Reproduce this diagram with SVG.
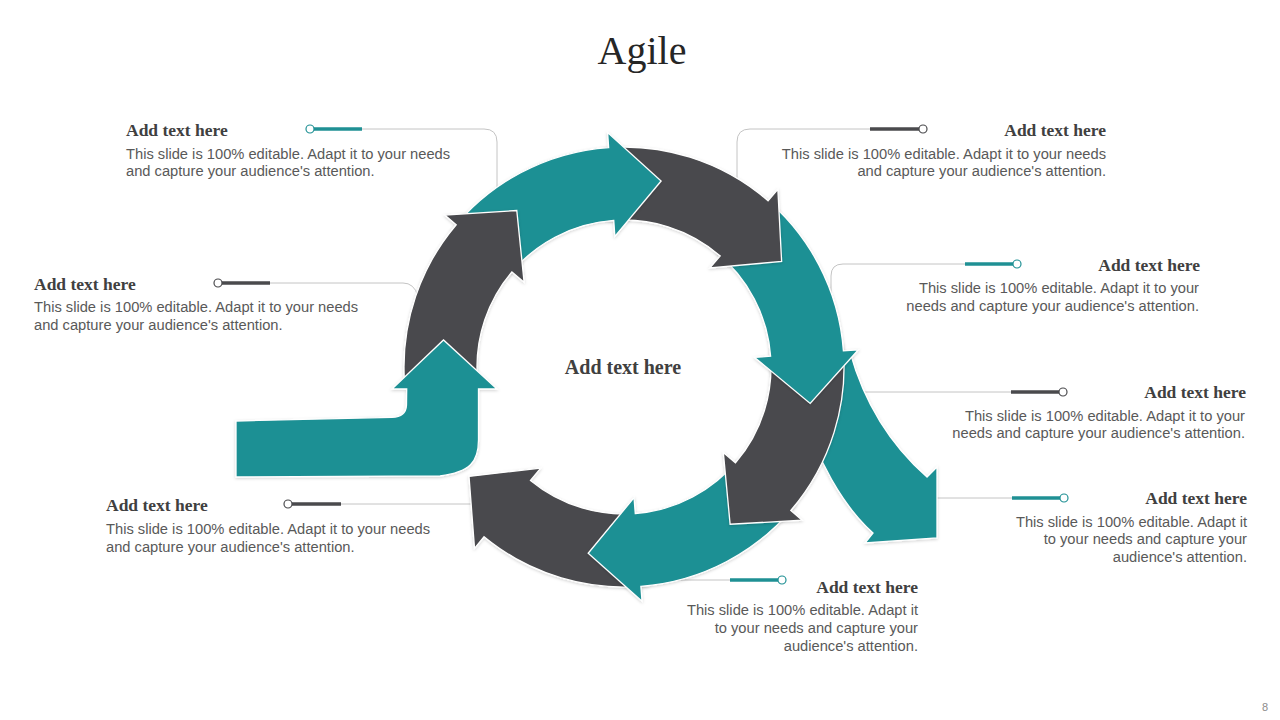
<svg xmlns="http://www.w3.org/2000/svg" width="1280" height="720" viewBox="0 0 1280 720">
<defs>
<filter id="sh" x="-10%" y="-10%" width="120%" height="120%">
<feDropShadow dx="0" dy="1" stdDeviation="1.5" flood-color="#000" flood-opacity="0.18"/>
</filter>
</defs>
<style>
.teal{fill:#1f9094;stroke:#ffffff;stroke-width:1.3;stroke-linejoin:miter;filter:url(#sh)}
.dark{fill:#4a4a4d;stroke:#ffffff;stroke-width:1.3;stroke-linejoin:miter;filter:url(#sh)}
.grey{fill:none;stroke:#c4c4c4;stroke-width:1}
.tk{fill:none;stroke:#1f9094;stroke-width:3.5}
.dk{fill:none;stroke:#4a4a4d;stroke-width:3.5}
.ct{fill:#fff;stroke:#1f9094;stroke-width:1.2}
.cd{fill:#fff;stroke:#4a4a4d;stroke-width:1.2}
.h{font-family:"Liberation Serif","Times New Roman",serif;font-weight:bold;font-size:17.5px;fill:#404040}
.b{font-family:"Liberation Sans",Arial,sans-serif;font-size:14.7px;fill:#595959}
.r{text-anchor:end}
</style>
<rect width="1280" height="720" fill="#ffffff"/>
<text x="642" y="64" text-anchor="middle" font-family="Liberation Serif, Times New Roman, serif" font-size="40" fill="#262626">Agile</text>

<g id="connectors">
<path class="grey" d="M362,129 H484 Q497,129 497,142 V192"/>
<path class="tk" d="M314,129 H362"/>
<circle class="ct" cx="310" cy="129" r="4"/>

<path class="grey" d="M870,129 H750 Q737,129 737,142 V182"/>
<path class="dk" d="M870,129 H919"/>
<circle class="cd" cx="923" cy="129" r="4"/>

<path class="grey" d="M965,264 H843 Q831,264 831,276 V296"/>
<path class="tk" d="M965,264 H1013"/>
<circle class="ct" cx="1017" cy="264" r="4"/>

<path class="grey" d="M1011,392 H850"/>
<path class="dk" d="M1011,392 H1059"/>
<circle class="cd" cx="1063" cy="392" r="4"/>

<path class="grey" d="M1012,498 H930"/>
<path class="tk" d="M1012,498 H1060"/>
<circle class="ct" cx="1064" cy="498" r="4"/>

<path class="grey" d="M730,580 H676"/>
<path class="tk" d="M730,580 H778"/>
<circle class="ct" cx="782" cy="580" r="4"/>

<path class="grey" d="M341,504 H476"/>
<path class="dk" d="M292,504 H341"/>
<circle class="cd" cx="288" cy="504" r="4"/>

<path class="grey" d="M270,283 H403 Q414,283 418,296"/>
<path class="dk" d="M222,283 H270"/>
<circle class="cd" cx="218" cy="283" r="4"/>
</g>

<g id="arrow8"><path class="dark" d="M648.52,585.63 A220,220 0 0 1 484.06,536.76 L474.52,548.33 L469.02,476.41 L540.67,468.08 L530.5,480.43 A147,147 0 0 0 640.39,513.08 Z"/></g>
<g id="arrow7"><path class="teal" d="M795.69,504.55 A220,220 0 0 1 640.88,586.35 L642.03,601.31 L588.19,553.3 L634.05,497.61 L635.28,513.57 A147,147 0 0 0 738.72,458.91 Z"/></g>
<g id="arrow-exit"><path class="teal" d="M795,360 L850,352 C862,395 885,440 927,477 L937,467 L937,538 L865,543 L873,533 C845,508 815,460 800,400 Z"/></g>
<g id="arrow6"><path class="dark" d="M842.71,343.05 A220,220 0 0 1 790.79,510.46 L802.16,520.24 L730.13,524.24 L723.32,452.43 L735.45,462.86 A147,147 0 0 0 770.14,351 Z"/></g>
<g id="arrow5"><path class="teal" d="M762.15,195.79 A220,220 0 0 1 843.41,350.89 L858.37,349.79 L810.17,403.47 L754.65,357.41 L770.61,356.23 A147,147 0 0 0 716.31,252.6 Z"/></g>
<g id="arrow4"><path class="dark" d="M601,148.21 A220,220 0 0 1 768.04,200.71 L777.86,189.38 L781.61,261.42 L709.77,267.98 L720.25,255.89 A147,147 0 0 0 608.63,220.81 Z"/></g>
<g id="arrow3"><path class="teal" d="M450.64,231.55 A220,220 0 0 1 608.65,147.54 L607.61,132.57 L661.11,180.96 L614.86,236.32 L613.75,220.36 A147,147 0 0 0 508.16,276.5 Z"/></g>
<g id="arrow2"><path class="dark" d="M404.3,378.5 A220,220 0 0 1 456.21,224.71 L444.77,215 L516.77,210.51 L524.09,282.27 L511.89,271.92 A147,147 0 0 0 477.2,374.69 Z"/></g>
<g id="arrow1"><path class="teal" d="M236,421 L392,417.3 Q406,417 406.5,405 L406.7,389 L392,389 L443.5,340 L497,389 L478.5,389 L478.5,440 C478.5,462 470,472 440,476 L236,477 Z"/></g>

<g id="center"><text x="623" y="374" text-anchor="middle" font-family="Liberation Serif, Times New Roman, serif" font-weight="bold" font-size="20" fill="#404040">Add text here</text></g>

<g id="t1">
<text class="h" x="126" y="136">Add text here</text>
<text class="b" x="126" y="159">This slide is 100% editable. Adapt it to your needs</text>
<text class="b" x="126" y="176">and capture your audience's attention.</text>
</g>
<g id="t2">
<text class="h r" x="1106" y="136">Add text here</text>
<text class="b r" x="1106" y="159">This slide is 100% editable. Adapt it to your needs</text>
<text class="b r" x="1106" y="176">and capture your audience's attention.</text>
</g>
<g id="t3">
<text class="h r" x="1200" y="271">Add text here</text>
<text class="b r" x="1199" y="293">This slide is 100% editable. Adapt it to your</text>
<text class="b r" x="1199" y="311">needs and capture your audience's attention.</text>
</g>
<g id="t4">
<text class="h r" x="1246" y="398">Add text here</text>
<text class="b r" x="1245" y="421">This slide is 100% editable. Adapt it to your</text>
<text class="b r" x="1245" y="438">needs and capture your audience's attention.</text>
</g>
<g id="t5">
<text class="h r" x="1247" y="504">Add text here</text>
<text class="b r" x="1247" y="527">This slide is 100% editable. Adapt it</text>
<text class="b r" x="1247" y="544">to your needs and capture your</text>
<text class="b r" x="1247" y="562">audience's attention.</text>
</g>
<g id="t6">
<text class="h r" x="918" y="593">Add text here</text>
<text class="b r" x="918" y="615">This slide is 100% editable. Adapt it</text>
<text class="b r" x="918" y="633">to your needs and capture your</text>
<text class="b r" x="918" y="651">audience's attention.</text>
</g>
<g id="t7">
<text class="h" x="106" y="511">Add text here</text>
<text class="b" x="106" y="534">This slide is 100% editable. Adapt it to your needs</text>
<text class="b" x="106" y="552">and capture your audience's attention.</text>
</g>
<g id="t8">
<text class="h" x="34" y="290">Add text here</text>
<text class="b" x="34" y="312">This slide is 100% editable. Adapt it to your needs</text>
<text class="b" x="34" y="330">and capture your audience's attention.</text>
</g>
<text x="1262" y="711" font-family="Liberation Sans, Arial, sans-serif" font-size="11" fill="#8c8c8c">8</text>
</svg>
